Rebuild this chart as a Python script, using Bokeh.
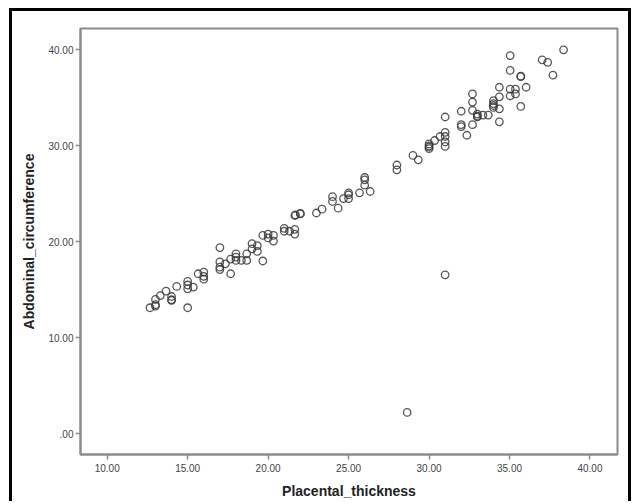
from bokeh.plotting import figure
from bokeh.models import Range1d, FixedTicker
from bokeh.embed import file_html
from bokeh.resources import INLINE

placental_thickness = [
    12.66, 13.0, 13.0, 13.0, 13.3, 13.66, 14.0, 14.0, 14.0, 14.32,
    15.0, 15.0, 15.0, 15.0, 15.35, 15.65, 16.0, 16.0, 16.0,
    17.0, 17.0, 17.0, 17.0, 17.34, 17.67, 17.67, 18.0, 18.0, 18.0,
    18.34, 18.67, 18.67, 19.0, 19.0, 19.33, 19.33, 19.67, 19.67,
    20.0, 20.0, 20.33, 20.33, 21.0, 21.0, 21.33, 21.66, 21.66,
    21.66, 21.7, 22.0, 22.0, 23.0, 23.35, 24.0, 24.0, 24.35, 24.68,
    25.0, 25.0, 25.0, 25.68, 26.0, 26.0, 26.0, 26.34,
    28.0, 28.0, 29.0, 29.33, 30.0, 30.0, 30.0, 30.0, 30.35, 30.68,
    31.0, 31.0, 31.0, 31.0, 31.0, 31.0, 28.64,
    32.0, 32.0, 32.0, 32.35, 32.7, 32.7, 32.7, 32.7,
    33.0, 33.0, 33.0, 33.35, 33.68, 34.0, 34.0, 34.0, 34.0,
    34.37, 34.37, 34.37, 34.37, 35.04, 35.04, 35.04, 35.04,
    35.37, 35.37, 35.7, 35.7, 35.7, 36.03, 37.03, 37.37, 37.7, 38.36,
]
abdominal_circumference = [
    13.13, 13.3, 13.45, 14.0, 14.4, 14.86, 14.3, 13.96, 13.9, 15.35,
    15.87, 15.5, 15.1, 13.13, 15.28, 16.67, 16.84, 16.4, 16.1,
    19.4, 17.9, 17.36, 17.1, 17.7, 16.67, 18.2, 18.75, 18.4, 18.06,
    18.06, 18.06, 18.75, 19.8, 19.27, 19.6, 19.0, 18.0, 20.66,
    20.8, 20.4, 20.66, 20.07, 21.4, 21.1, 21.1, 21.3, 20.8,
    22.74, 22.8, 22.9, 22.95, 23.0, 23.4, 24.7, 24.2, 23.5, 24.5,
    25.1, 24.9, 24.5, 25.1, 26.7, 26.45, 25.9, 25.24,
    28.0, 27.5, 29.0, 28.54, 30.2, 30.0, 29.86, 29.7, 30.55, 30.97,
    33.0, 31.4, 30.97, 30.4, 29.93, 16.56, 2.22,
    33.6, 32.2, 32.0, 31.1, 35.4, 34.55, 33.7, 32.2,
    33.3, 33.0, 33.1, 33.2, 33.2, 34.7, 34.4, 34.0, 34.2,
    36.1, 35.1, 33.85, 32.5, 39.4, 37.85, 35.9, 35.2,
    35.9, 35.4, 37.26, 37.2, 34.1, 36.1, 38.96, 38.7, 37.36, 40.0,
]

x_ticks = [10, 15, 20, 25, 30, 35, 40]
x_tick_labels = ["10.00", "15.00", "20.00", "25.00", "30.00", "35.00", "40.00"]
y_ticks = [0, 10, 20, 30, 40]
y_tick_labels = [".00", "10.00", "20.00", "30.00", "40.00"]

p = figure(width=622, height=493, output_backend="svg", toolbar_location=None,
           x_range=Range1d(8.34, 41.71), y_range=Range1d(-2.16, 42.22),
           min_border_left=68, min_border_right=17, min_border_top=17,
           min_border_bottom=50)
p.margin = (8, 0, 0, 9)
p.styles = {"border-top": "3px solid black", "border-left": "3px solid black",
            "border-right": "3px solid black"}
p.grid.visible = False
p.background_fill_color = "white"
p.border_fill_color = "white"
p.outline_line_color = "#8c8c8c"
p.outline_line_width = 2

p.scatter(placental_thickness, abdominal_circumference, marker="circle", size=7.5,
          fill_color=None, line_color="#3a3a3a", line_width=1.3, line_alpha=0.85)

for ax in (p.xaxis[0], p.yaxis[0]):
    ax.axis_line_color = "#8c8c8c"
    ax.axis_line_width = 2
    ax.major_tick_line_color = "#8c8c8c"
    ax.major_tick_line_width = 1.5
    ax.major_tick_out = 5
    ax.major_tick_in = 0
    ax.minor_tick_line_color = None
    ax.major_label_text_font = "Liberation Sans"
    ax.major_label_text_font_size = "10px"
    ax.major_label_text_color = "#444444"
    ax.axis_label_text_font = "Liberation Sans"
    ax.axis_label_text_font_style = "bold"
    ax.axis_label_text_font_size = "14px"
    ax.axis_label_text_color = "#222222"

p.xaxis.ticker = FixedTicker(ticks=x_ticks)
p.yaxis.ticker = FixedTicker(ticks=y_ticks)
p.xaxis.major_label_overrides = {t: l for t, l in zip(x_ticks, x_tick_labels)}
p.yaxis.major_label_overrides = {t: l for t, l in zip(y_ticks, y_tick_labels)}
p.xaxis.axis_label = "Placental_thickness"
p.yaxis.axis_label = "Abdominal_circumference"
p.xaxis.major_label_standoff = 4
p.yaxis.major_label_standoff = 2
p.xaxis.axis_label_standoff = 8
p.yaxis.axis_label_standoff = 8

open("out.html", "w").write(file_html(p, INLINE))
